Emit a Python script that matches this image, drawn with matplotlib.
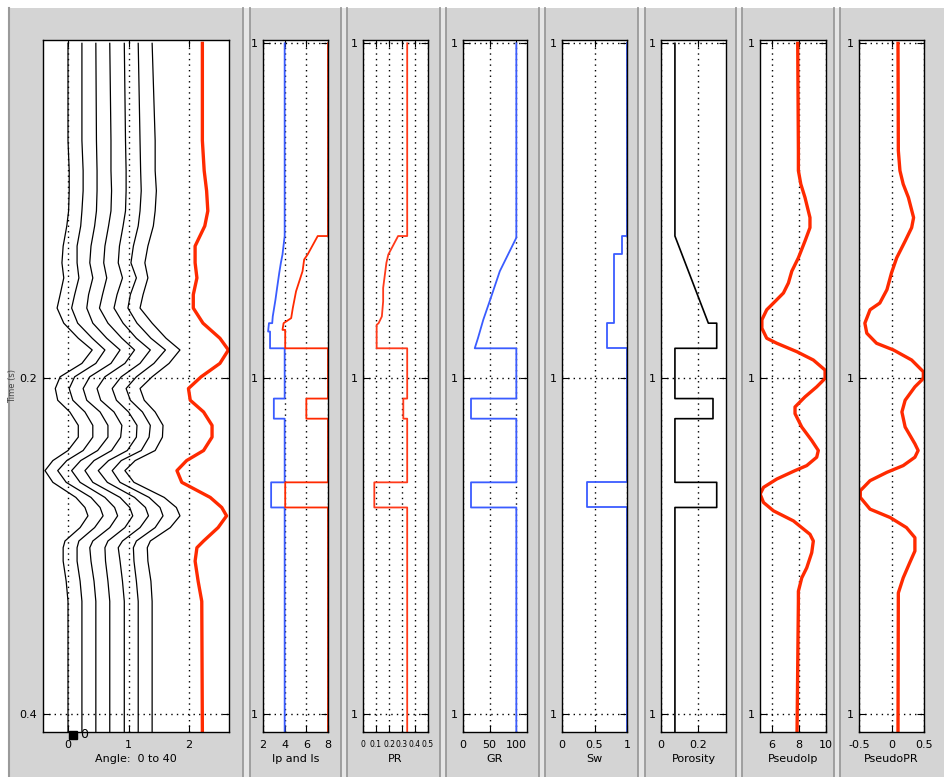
import matplotlib
matplotlib.use('Agg')
import matplotlib.pyplot as plt
from matplotlib.patches import Rectangle
from matplotlib.lines import Line2D
import numpy as np

plt.rcParams['font.family'] = ['DejaVu Sans']
plt.rcParams['axes.unicode_minus'] = False

# ---------------- data ----------------
# angle gather (panel 1): 7 traces, 0..40 degrees, plus the stack in red
angle_offsets = [0.0, 0.23, 0.46, 0.69, 0.93, 1.16, 1.39]
wave_t = [0.0, 0.058, 0.076, 0.088, 0.100, 0.109, 0.121, 0.131, 0.140, 0.150,
          0.158, 0.167, 0.176, 0.183, 0.191, 0.199, 0.206, 0.213, 0.220, 0.228,
          0.235, 0.243, 0.249, 0.255, 0.262, 0.271, 0.277, 0.282, 0.289, 0.297,
          0.301, 0.309, 0.321, 0.333, 0.411]
# deflection of each angle trace from its baseline (rows = wave_t)
angle_dev = [
    [0, 0, 0, 0, 0, 0, 0],
    [0, 0, 0.01, 0.02, 0.02, 0.03, 0.05],
    [0.02, 0.02, 0.02, 0.02, 0.03, 0.04, 0.05],
    [0.02, 0.02, 0.02, 0.03, 0.03, 0.05, 0.07],
    [0.01, 0, 0.01, 0.02, 0.02, 0.03, 0.05],
    [-0.02, -0.02, -0.02, -0.02, -0.02, 0, 0.02],
    [-0.08, -0.08, -0.08, -0.08, -0.08, -0.08, -0.07],
    [-0.10, -0.08, -0.10, -0.10, -0.10, -0.12, -0.12],
    [-0.07, -0.05, -0.05, -0.05, -0.03, -0.03, -0.07],
    [-0.13, -0.12, -0.12, -0.12, -0.12, -0.13, -0.15],
    [-0.18, -0.17, -0.15, -0.17, -0.17, -0.17, -0.20],
    [-0.07, -0.07, -0.05, -0.03, -0.02, -0.02, 0],
    [0.17, 0.17, 0.18, 0.20, 0.20, 0.21, 0.23],
    [0.40, 0.38, 0.40, 0.41, 0.43, 0.45, 0.46],
    [0.23, 0.23, 0.25, 0.25, 0.26, 0.26, 0.28],
    [-0.13, -0.12, -0.10, -0.08, -0.05, -0.03, 0],
    [-0.21, -0.21, -0.21, -0.21, -0.20, -0.20, -0.20],
    [-0.17, -0.15, -0.15, -0.15, -0.13, -0.13, -0.13],
    [0.03, 0.05, 0.07, 0.07, 0.07, 0.07, 0.05],
    [0.17, 0.18, 0.20, 0.20, 0.21, 0.20, 0.18],
    [0.17, 0.18, 0.20, 0.18, 0.20, 0.18, 0.17],
    [0, 0.02, 0.03, 0.03, 0.05, 0.05, 0.05],
    [-0.25, -0.25, -0.25, -0.26, -0.26, -0.28, -0.28],
    [-0.38, -0.40, -0.40, -0.41, -0.43, -0.43, -0.45],
    [-0.25, -0.26, -0.26, -0.28, -0.28, -0.30, -0.30],
    [0.13, 0.15, 0.15, 0.17, 0.17, 0.18, 0.20],
    [0.28, 0.30, 0.31, 0.33, 0.35, 0.36, 0.40],
    [0.33, 0.35, 0.36, 0.38, 0.40, 0.41, 0.46],
    [0.20, 0.21, 0.23, 0.25, 0.26, 0.28, 0.30],
    [-0.05, -0.05, -0.05, -0.03, -0.03, -0.03, -0.03],
    [-0.08, -0.08, -0.10, -0.08, -0.10, -0.08, -0.08],
    [-0.08, -0.08, -0.08, -0.07, -0.07, -0.07, -0.07],
    [-0.03, -0.03, -0.03, -0.03, -0.03, -0.03, -0.02],
    [0, 0, 0, 0, 0, 0, 0],
    [0, 0, 0, 0, 0, 0, 0],
]
stack_x = [2.22, 2.22, 2.25, 2.29, 2.31, 2.26, 2.10, 2.10, 2.13, 2.07,
           2.07, 2.23, 2.51, 2.65, 2.51, 2.20, 1.99, 2.02, 2.24, 2.38,
           2.38, 2.24, 1.96, 1.80, 1.88, 2.35, 2.54, 2.62, 2.48, 2.24,
           2.13, 2.10, 2.15, 2.21, 2.22]

# Ip and Is
ip_t = [0, 0.115, 0.126, 0.131, 0.137, 0.146, 0.153, 0.163, 0.167, 0.167, 0.172,
        0.172, 0.182, 0.182, 0.212, 0.212, 0.224, 0.224, 0.262, 0.262, 0.277, 0.277, 0.411]
ip_v = [4.0, 4.0, 3.8, 3.65, 3.5, 3.3, 3.15, 2.9, 2.85, 2.55, 2.47,
        2.65, 2.65, 4.0, 4.0, 3.0, 3.0, 4.0, 4.0, 2.75, 2.75, 4.0, 4.0]
is_t = [0, 0.115, 0.115, 0.126, 0.129, 0.136, 0.142, 0.148, 0.158, 0.164, 0.167, 0.171,
        0.171, 0.182, 0.182, 0.212, 0.212, 0.224, 0.224, 0.262, 0.262, 0.277, 0.277, 0.411]
is_v = [8.0, 8.0, 7.05, 6.12, 5.8, 5.65, 5.35, 5.05, 4.75, 4.6, 3.9, 3.8,
        4.05, 4.05, 8.0, 8.0, 6.0, 6.0, 8.0, 8.0, 4.05, 4.05, 8.0, 8.0]

# PR
pr_t = [0, 0.115, 0.115, 0.126, 0.131, 0.137, 0.146, 0.154, 0.163, 0.167, 0.168,
        0.182, 0.182, 0.212, 0.212, 0.224, 0.224, 0.262, 0.262, 0.277, 0.277, 0.411]
pr_v = [0.34, 0.34, 0.27, 0.195, 0.18, 0.17, 0.155, 0.155, 0.145, 0.12, 0.105,
        0.105, 0.34, 0.34, 0.31, 0.31, 0.34, 0.34, 0.087, 0.087, 0.34, 0.34]

# GR
gr_t = [0, 0.116, 0.136, 0.153, 0.165, 0.176, 0.182, 0.182, 0.212, 0.212,
        0.224, 0.224, 0.262, 0.262, 0.277, 0.277, 0.411]
gr_v = [100, 100, 69, 51, 38, 28, 22, 100, 100, 15, 15, 100, 100, 15, 15, 100, 100]

# Sw
sw_t = [0, 0.115, 0.115, 0.126, 0.126, 0.167, 0.167, 0.182, 0.182, 0.262, 0.262, 0.277, 0.277, 0.411]
sw_v = [1, 1, 0.93, 0.93, 0.80, 0.80, 0.69, 0.69, 1, 1, 0.38, 0.38, 1, 1]

# Porosity
phi_t = [0, 0.115, 0.167, 0.167, 0.182, 0.182, 0.212, 0.212, 0.224, 0.224,
         0.262, 0.262, 0.277, 0.277, 0.411]
phi_v = [0.075, 0.075, 0.255, 0.30, 0.30, 0.075, 0.075, 0.28, 0.28, 0.075,
         0.075, 0.30, 0.30, 0.075, 0.075]

# Pseudo Ip
pip_t = [0.0, 0.064, 0.076, 0.084, 0.092, 0.104, 0.110, 0.118, 0.128, 0.136,
         0.143, 0.149, 0.155, 0.159, 0.165, 0.170, 0.176, 0.179, 0.184, 0.189,
         0.195, 0.200, 0.205, 0.211, 0.217, 0.221, 0.229, 0.237, 0.243, 0.247,
         0.252, 0.255, 0.260, 0.265, 0.269, 0.274, 0.279, 0.285, 0.293, 0.297,
         0.304, 0.313, 0.319, 0.327, 0.333, 0.411]
pip_v = [7.9, 7.95, 7.95, 8.13, 8.44, 8.81, 8.81, 8.44, 7.95, 7.46,
         7.21, 6.84, 6.10, 5.60, 5.24, 5.24, 5.60, 6.35, 7.83, 9.06,
         9.93, 9.93, 9.31, 8.44, 7.70, 7.70, 8.20, 8.94, 9.43, 9.31,
         8.57, 7.70, 6.35, 5.36, 5.11, 5.36, 6.10, 7.58, 8.81, 9.06,
         8.94, 8.57, 8.20, 7.95, 7.95, 7.85]

# Pseudo PR
ppr_t = [0.0, 0.064, 0.076, 0.084, 0.092, 0.104, 0.110, 0.118, 0.128, 0.137,
         0.147, 0.155, 0.159, 0.167, 0.173, 0.179, 0.183, 0.189, 0.196, 0.200,
         0.205, 0.213, 0.220, 0.229, 0.239, 0.243, 0.247, 0.252, 0.256, 0.261,
         0.267, 0.271, 0.278, 0.283, 0.289, 0.295, 0.303, 0.310, 0.319, 0.328, 0.411]
ppr_v = [0.10, 0.105, 0.13, 0.18, 0.26, 0.34, 0.31, 0.21, 0.08, 0.0,
         -0.07, -0.18, -0.33, -0.41, -0.38, -0.23, 0.03, 0.31, 0.49, 0.49,
         0.36, 0.21, 0.16, 0.21, 0.36, 0.41, 0.36, 0.18, -0.07, -0.33,
         -0.48, -0.48, -0.33, -0.02, 0.23, 0.36, 0.36, 0.28, 0.18, 0.105, 0.10]

panel_labels = ['Angle:  0 to 40', 'Ip and Is', 'PR', 'GR', 'Sw', 'Porosity', 'PseudoIp', 'PseudoPR']

# ---------------- figure ----------------
W, H = 945, 777
fig = plt.figure(figsize=(W / 100, H / 100), dpi=100, facecolor='white')

RED = '#ff2a00'
BLUE = '#3a5cff'
GRAY = '#d4d4d4'

fig.add_artist(Rectangle((9 / W, 0), (W - 9) / W, (H - 8) / H, transform=fig.transFigure,
                         facecolor=GRAY, edgecolor='none', zorder=-10))
fig.add_artist(Line2D([9.5 / W, 9.5 / W], [0, (H - 8) / H], transform=fig.transFigure,
                      color='#9a9a9a', lw=1.5, zorder=-5))
for r, l in [(243, 250), (341, 347), (440, 446), (539, 545), (638, 645), (736, 742), (834, 840)]:
    fig.add_artist(Rectangle((r / W, 0), (l - r) / W, (H - 8) / H, transform=fig.transFigure,
                             facecolor='#e6e6e6', edgecolor='none', zorder=-9))
    for xx in (r, l):
        fig.add_artist(Line2D([xx / W, xx / W], [0, (H - 8) / H], transform=fig.transFigure,
                              color='#9a9a9a', lw=1.3, zorder=-5))


def add_panel(x0, x1):
    ax = fig.add_axes([x0 / W, (H - 732) / H, (x1 - x0) / W, 692 / H])
    ax.set_ylim(0.411, -0.002)
    ax.set_facecolor('white')
    ax.set_axisbelow(True)
    ax.grid(True, color='k', linestyle=(0, (1, 3)), linewidth=1.0)
    ax.tick_params(direction='in', length=5, width=0.8, top=True, right=True,
                   labelsize=8, pad=4)
    ax.tick_params(axis='x', pad=6)
    for s in ax.spines.values():
        s.set_linewidth(1.0)
    return ax


lefts = [(43, 229), (263, 328), (363, 428), (463, 527), (562, 627), (661, 726), (760, 826), (859, 924)]
axes = [add_panel(a, b) for a, b in lefts]

# panel 1: angle gather
ax = axes[0]
dev = np.array(angle_dev)
for k, off in enumerate(angle_offsets):
    ax.plot(off + dev[:, k], wave_t, color='k', lw=0.9)
ax.plot(stack_x, wave_t, color=RED, lw=2.4)
ax.set_xlim(-0.413, 2.66)
ax.set_xticks([0, 1, 2])
ax.set_yticks([0.2, 0.4])
ax.set_yticklabels(['0.2', '0.4'])
ax.set_ylabel('Time (s)', fontsize=6, color='#444444')
ax.yaxis.set_label_coords(-0.14, 0.5)
ax.plot([0.08], [0.4125], marker='s', color='k', markersize=6, clip_on=False)
ax.text(0.2, 0.4125, '0', fontsize=9, va='center', ha='left', clip_on=False)

# panel 2: Ip and Is
ax = axes[1]
ax.plot(ip_v, ip_t, color=BLUE, lw=1.3)
ax.plot(is_v, is_t, color=RED, lw=1.3)
ax.set_xlim(2, 8)
ax.set_xticks([2, 4, 6, 8])

# panel 3: PR (crowded ticks, smaller type)
ax = axes[2]
ax.plot(pr_v, pr_t, color='#ff3a1a', lw=1.3)
ax.set_xlim(0, 0.5)
ax.set_xticks([0, 0.1, 0.2, 0.3, 0.4, 0.5])
ax.set_xticklabels(['0', '0.1', '0.2', '0.3', '0.4', '0.5'], fontsize=5.5)

# panel 4: GR
ax = axes[3]
ax.plot(gr_v, gr_t, color=BLUE, lw=1.3)
ax.set_xlim(0, 120)
ax.set_xticks([0, 50, 100])

# panel 5: Sw
ax = axes[4]
ax.plot(sw_v, sw_t, color=BLUE, lw=1.3)
ax.set_xlim(0, 1)
ax.set_xticks([0, 0.5, 1])
ax.set_xticklabels(['0', '0.5', '1'])

# panel 6: Porosity
ax = axes[5]
ax.plot(phi_v, phi_t, color='k', lw=1.2)
ax.set_xlim(0, 0.35)
ax.set_xticks([0, 0.2])
ax.set_xticklabels(['0', '0.2'])

# panel 7: PseudoIp
ax = axes[6]
ax.plot(pip_v, pip_t, color=RED, lw=2.4)
ax.set_xlim(5.1, 10)
ax.set_xticks([6, 8, 10])

# panel 8: PseudoPR
ax = axes[7]
ax.plot(ppr_v, ppr_t, color=RED, lw=2.4)
ax.set_xlim(-0.5, 0.5)
ax.set_xticks([-0.5, 0, 0.5])
ax.set_xticklabels(['-0.5', '0', '0.5'])

for ax in axes[1:]:
    ax.set_yticks([0, 0.2, 0.4])
    ax.set_yticklabels(['1', '1', '1'])

for ax, lab in zip(axes, panel_labels):
    ax.set_xlabel(lab, fontsize=8, labelpad=3)

fig.savefig('out.png', dpi=100)
